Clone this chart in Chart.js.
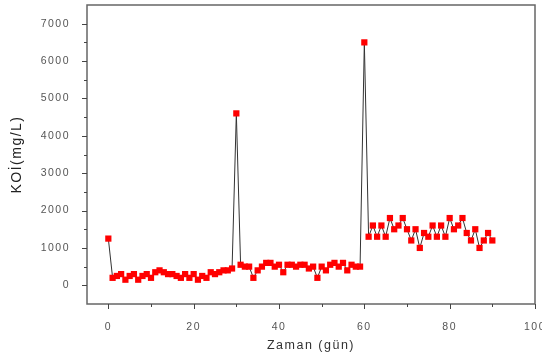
<!DOCTYPE html>
<html>
<head>
  <title>KOİ - Zaman</title>
  <script src="https://cdn.jsdelivr.net/npm/chart.js"></script>
  <style>
    html, body {
        margin: 0;
        padding: 0;
        background: #fff;
    }
    .chart-box {
        width: 542px;
        height: 356px;
    }
  </style>
</head>
<body>
  <div class="chart-box">
    <canvas id="koiChart"></canvas>
  </div>

  <script>
    // gün (x) ve KOİ değerleri (mg/L)
    const days = [];
    for (let d = 0; d <= 90; d++) days.push(d);

    const koiValues = [
      1250,
      200, 250, 300, 150, 250, 300, 150, 250, 300, 200,
      350, 400, 350, 300, 300, 250, 200, 300, 200, 300,
      150, 250, 200, 350, 300, 350, 400, 400, 450,
      4600,
      550, 500, 500, 200, 400, 500, 600, 600, 500, 550,
      350, 550, 550, 500, 550, 550, 450, 500, 200, 500,
      400, 550, 600, 500, 600, 400, 550, 500, 500,
      6500,
      1300, 1600, 1300, 1600, 1300, 1800, 1500, 1600, 1800, 1500,
      1200, 1500, 1000, 1400, 1300, 1600, 1300, 1600, 1300, 1800,
      1500, 1600, 1800, 1400, 1200, 1500, 1000, 1200, 1400, 1200
    ];

    const xTicks = [0, 10, 20, 30, 40, 50, 60, 70, 80, 90, 100];
    const yTicks = [0, 500, 1000, 1500, 2000, 2500, 3000, 3500, 4000, 4500, 5000, 5500, 6000, 6500, 7000];

    // Origin tarzı çerçeve ve tik çizgileri
    const framePlugin = {
      id: 'frame',
      beforeUpdate(chart) { chart.ctx.letterSpacing = '1.5px'; },
      beforeDraw(chart) { chart.ctx.letterSpacing = '1.5px'; },
      afterDraw(chart) {
        const ctx = chart.ctx;
        const a = chart.chartArea;
        const xs = chart.scales.x, ys = chart.scales.y;
        ctx.save();
        ctx.strokeStyle = '#666';
        ctx.lineWidth = 1.5;
        ctx.strokeRect(a.left, a.top, a.right - a.left, a.bottom - a.top);
        ctx.lineWidth = 1;
        ctx.strokeStyle = '#444';
        ctx.beginPath();
        xTicks.forEach(v => {
          const px = Math.round(xs.getPixelForValue(v)) + 0.5;
          const len = v % 20 === 0 ? 5 : 3;
          ctx.moveTo(px, a.bottom);
          ctx.lineTo(px, a.bottom + len);
        });
        yTicks.forEach(v => {
          const py = Math.round(ys.getPixelForValue(v)) + 0.5;
          const len = v % 1000 === 0 ? 5 : 3;
          ctx.moveTo(a.left, py);
          ctx.lineTo(a.left - len, py);
        });
        ctx.stroke();
        ctx.restore();
      }
    };

    const ctx = document.getElementById('koiChart').getContext('2d');
    new Chart(ctx, {
      type: 'line',
      data: {
        datasets: [{
          label: 'KOİ',
          data: days.map((d, i) => ({ x: d, y: koiValues[i] })),
          borderColor: '#333',
          borderWidth: 1,
          pointStyle: 'rect',
          pointRadius: 4.4,
          pointBackgroundColor: '#ff0000',
          pointBorderWidth: 0,
          tension: 0
        }]
      },
      options: {
        responsive: true,
        maintainAspectRatio: false,
        animation: false,
        layout: { padding: { left: 0, top: 5, right: 7, bottom: 0 } },
        plugins: {
          legend: { display: false },
          tooltip: { enabled: false }
        },
        scales: {
          x: {
            type: 'linear',
            min: -5,
            max: 100,
            afterBuildTicks: s => { s.ticks = xTicks.map(v => ({ value: v })); },
            afterFit: s => { s.height = 52; s.paddingLeft = 0; s.paddingRight = 0; },
            grid: { display: false },
            border: { display: false },
            ticks: {
              padding: 9,
              maxRotation: 0,
              autoSkip: false,
              color: '#555',
              font: { family: 'Liberation Sans, Arial', size: 10.5 },
              callback: v => (v % 20 === 0 ? v : '')
            },
            title: {
              display: true,
              text: 'Zaman (gün)',
              color: '#333',
              padding: { top: 3, bottom: 3 },
              font: { family: 'Liberation Sans, Arial', size: 12.5 }
            }
          },
          y: {
            min: -500,
            max: 7500,
            afterBuildTicks: s => { s.ticks = yTicks.map(v => ({ value: v })); },
            afterFit: s => { s.width = 87; s.paddingTop = 0; s.paddingBottom = 0; },
            grid: { display: false },
            border: { display: false },
            ticks: {
              padding: 9,
              autoSkip: false,
              color: '#555',
              font: { family: 'Liberation Sans, Arial', size: 10.5 },
              callback: v => (v % 1000 === 0 ? v : '')
            },
            title: {
              display: true,
              text: 'KOİ(mg/L)',
              color: '#222',
              padding: { top: 9, bottom: 0 },
              font: { family: 'Liberation Sans, Arial', size: 14 }
            }
          }
        }
      },
      plugins: [framePlugin]
    });
  </script>
</body>
</html>
